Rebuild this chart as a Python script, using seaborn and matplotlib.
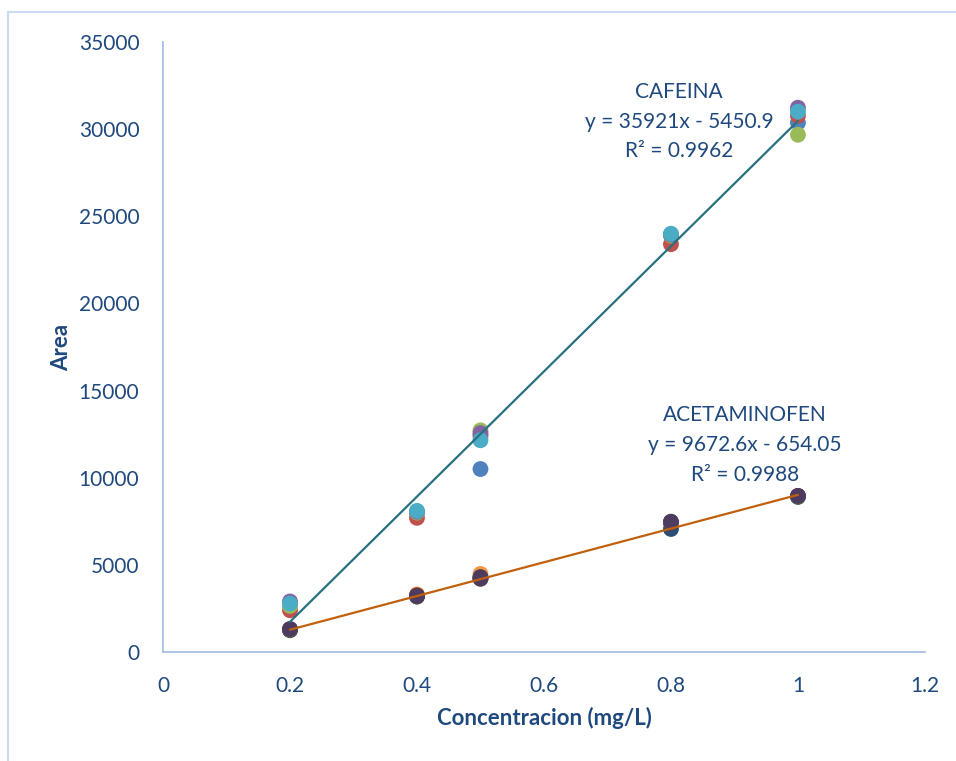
"""Calibration curves (area vs concentration) for caffeine and acetaminophen."""
import matplotlib
matplotlib.use("Agg")
import matplotlib.pyplot as plt
from matplotlib.patches import Rectangle
import seaborn as sns
import pandas as pd
import numpy as np

# %%
# Data
conc = [0.2, 0.4, 0.5, 0.8, 1.0]

cafeina_series = ["C1", "C2", "C3", "C4", "C5"]
cafeina_area = [
    [2700, 8000, 10500, 23900, 30370],   # blue
    [2400, 7700, 12400, 23400, 30770],   # red
    [2650, 8000, 12720, 23900, 29680],   # green
    [2900, 8050, 12560, 23950, 31230],   # purple
    [2780, 8100, 12150, 24000, 31000],   # aqua
]

acet_series = ["A1", "A2", "A3", "A4", "A5"]
acet_area = [
    [1300, 3300, 4480, 7400, 8950],     # orange
    [1250, 3200, 4300, 7060, 8900],     # dark blue
    [1300, 3250, 4250, 7420, 8950],     # dark red
    [1280, 3180, 4200, 7450, 8920],     # dark green
    [1320, 3200, 4220, 7480, 8960],     # dark purple
]

# trendline coefficients (slope, intercept, r2)
caf_fit = (35921, -5450.9, 0.9962)
acet_fit = (9672.6, -654.05, 0.9988)

x_ticks = [0, 0.2, 0.4, 0.6, 0.8, 1.0, 1.2]
x_ticklabels = ["0", "0.2", "0.4", "0.6", "0.8", "1", "1.2"]
y_ticks = [0, 5000, 10000, 15000, 20000, 25000, 30000, 35000]

# %%
sns.set_style("white")
plt.rcParams["font.family"] = ["Lato", "DejaVu Sans"]

txt = "#1F497D"
spine_col = "#A7C1E4"

palette = {
    "C1": "#4F81BD", "C2": "#C0504D", "C3": "#9BBB59", "C4": "#8064A2", "C5": "#4BACC6",
    "A1": "#F79646", "A2": "#2C4D75", "A3": "#772C2A", "A4": "#5F7530", "A5": "#4D3B62",
}

rows = []
for name, vals in zip(cafeina_series + acet_series, cafeina_area + acet_area):
    for c, a in zip(conc, vals):
        rows.append({"conc": c, "area": a, "serie": name})
df = pd.DataFrame(rows)

fig = plt.figure(figsize=(9.56, 7.61), dpi=100)
ax = fig.add_axes([0.1705, 0.1432, 0.797, 0.8016])

# outer chart border (light blue)
fig.patches.append(Rectangle((8 / 956, -0.05), 1.1, (761 - 12) / 761 + 0.05,
                             transform=fig.transFigure, fill=False,
                             edgecolor="#C9DAF0", linewidth=1.5))

# trendlines
xl = np.array([min(conc), max(conc)])
lines = pd.DataFrame({
    "conc": np.concatenate([xl, xl]),
    "area": np.concatenate([caf_fit[0] * xl + caf_fit[1], acet_fit[0] * xl + acet_fit[1]]),
    "fit": ["caf", "caf", "acet", "acet"],
})
sns.lineplot(data=lines, x="conc", y="area", hue="fit",
             palette={"caf": "#287080", "acet": "#C0600C"},
             linewidth=1.6, legend=False, ax=ax, zorder=3)

sns.scatterplot(data=df, x="conc", y="area", hue="serie", palette=palette,
                s=130, edgecolor=None, linewidth=0, legend=False, ax=ax, zorder=2)

ax.set_xlim(0, 1.2)
ax.set_ylim(0, 35000)
ax.set_xticks(x_ticks)
ax.set_xticklabels(x_ticklabels)
ax.set_yticks(y_ticks)
ax.set_yticklabels([str(v) for v in y_ticks])
ax.tick_params(axis="both", length=0, labelsize=15, labelcolor=txt)
ax.tick_params(axis="x", pad=17)
ax.tick_params(axis="y", pad=17)

for s in ["top", "right"]:
    ax.spines[s].set_visible(False)
for s in ["left", "bottom"]:
    ax.spines[s].set_color(spine_col)
    ax.spines[s].set_linewidth(1.3)

ax.set_xlabel("Concentracion (mg/L)", fontsize=16, fontweight="bold", color=txt, labelpad=8)
ax.set_ylabel("Area", fontsize=16, fontweight="bold", color=txt, labelpad=5)

ax.text(0.813, 30420,
        f"CAFEINA\ny = {caf_fit[0]}x - {abs(caf_fit[1])}\nR² = {caf_fit[2]}",
        ha="center", va="center", fontsize=15, color=txt, linespacing=1.6)
ax.text(0.9165, 11883,
        f"ACETAMINOFEN\ny = {acet_fit[0]}x - {abs(acet_fit[1])}\nR² = {acet_fit[2]}",
        ha="center", va="center", fontsize=15, color=txt, linespacing=1.6)

fig.savefig("out.png", dpi=100)
